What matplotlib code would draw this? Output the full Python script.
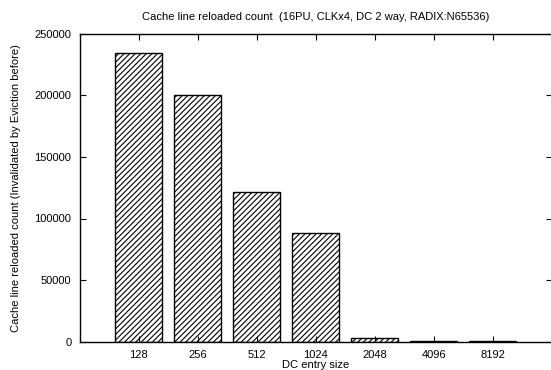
import matplotlib
matplotlib.use("Agg")
import matplotlib.pyplot as plt

categories = ["128", "256", "512", "1024", "2048", "4096", "8192"]
counts = [234300, 200200, 121300, 88500, 2800, 500, 300]
yticks = [0, 50000, 100000, 150000, 200000, 250000]

plt.rcParams['font.family'] = ['Liberation Sans', 'DejaVu Sans']
plt.rcParams['hatch.linewidth'] = 0.8

W, H = 551, 370
fig = plt.figure(figsize=(W / 100, H / 100), dpi=100)
left, right, top, bottom = 79.7, 551.7, 33.7, 341.7
ax = fig.add_axes([left / W, 1 - bottom / H, (right - left) / W, (bottom - top) / H])

pos = list(range(1, len(categories) + 1))
ax.bar(pos, counts, width=0.8, color='white', edgecolor='black', linewidth=1.0,
       hatch='//////')
ax.set_xlim(0, 8)
ax.set_ylim(0, 250000)
ax.set_xticks(pos)
ax.set_xticklabels(categories)
ax.set_yticks(yticks)
ax.set_yticklabels([str(v) for v in yticks])
ax.tick_params(axis='both', direction='in', length=4, width=0.8, labelsize=8,
               top=True, right=True, pad=6)
for s in ax.spines.values():
    s.set_linewidth(1.0)

cx = (left + right) / 2
fig.text(cx / W, 1 - 17 / H, "Cache line reloaded count  (16PU, CLKx4, DC 2 way, RADIX:N65536)",
         ha='center', va='center', fontsize=8)
fig.text(cx / W, 1 - 369.5 / H, "DC entry size", ha='center', va='bottom', fontsize=8)
fig.text(16.5 / W, 1 - 188 / H, "Cache line reloaded count (Invalidated by Eviction before)",
         ha='center', va='center', rotation=90, fontsize=8)

fig.savefig("out.png", dpi=100)
